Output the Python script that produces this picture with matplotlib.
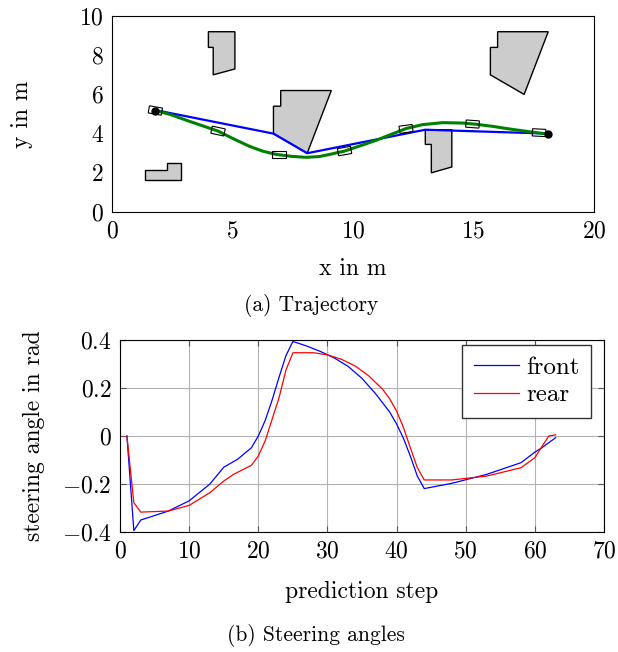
import numpy as np
import matplotlib
matplotlib.use("Agg")
import matplotlib.pyplot as plt
from matplotlib.patches import Polygon
from matplotlib.ticker import FuncFormatter

plt.rcParams['font.family'] = 'serif'
plt.rcParams['font.serif'] = ['cmr10']
plt.rcParams['mathtext.fontset'] = 'cm'
plt.rcParams['axes.formatter.use_mathtext'] = True
plt.rcParams['font.size'] = 17

# --- trajectory data ---
obstacles = [
    [(4.0, 9.2), (5.1, 9.2), (5.1, 7.3), (4.2, 7.0), (4.2, 8.4), (4.0, 8.4)],
    [(7.0, 6.2), (9.1, 6.2), (8.1, 3.0), (6.7, 4.0), (6.7, 5.4), (7.0, 5.4)],
    [(1.35, 2.15), (2.3, 2.15), (2.3, 2.5), (2.85, 2.5), (2.85, 1.65), (1.35, 1.65)],
    [(13.0, 4.2), (14.1, 4.2), (14.1, 2.3), (13.25, 2.0), (13.25, 3.45), (13.0, 3.45)],
    [(16.0, 9.2), (18.1, 9.2), (17.1, 6.0), (15.7, 7.0), (15.7, 8.4), (16.0, 8.4)],
]

path_x = [1.8, 6.7, 8.1, 13.0, 18.1]
path_y = [5.2, 4.0, 3.0, 4.2, 4.0]

traj_x = [1.8, 2.44, 3.09, 4.40, 5.05, 5.71, 6.27, 6.82, 7.45, 8.06, 8.6, 9.03, 9.65, 10.3, 10.96, 11.58,
          12.2, 12.89, 13.72, 14.55, 15.1, 15.8, 16.48, 17.3, 18.07]
traj_y = [5.18, 4.97, 4.68, 4.13, 3.73, 3.35, 3.10, 2.94, 2.84, 2.79, 2.83, 2.94, 3.11, 3.38, 3.66, 3.96,
          4.26, 4.46, 4.56, 4.54, 4.48, 4.37, 4.24, 4.10, 3.98]

veh_x = [1.8, 4.4, 6.93, 9.65, 12.2, 14.96, 17.72]
veh_y = [5.18, 4.13, 2.94, 3.11, 4.24, 4.49, 4.05]
veh_heading = [-10, -12, 0, 10, 8, -4, -3]  # degrees on screen

start = (1.8, 5.18)
goal = (18.1, 3.98)

# --- steering data ---
front_step = [1, 2, 3, 7, 10, 13, 15, 17, 19, 20, 21, 22, 23, 24, 25, 27, 29, 31, 33, 35, 37, 39, 40, 41,
              42, 43, 44, 48, 53, 58, 60, 61, 63]
front_val = [0, -0.394, -0.35, -0.3125, -0.27, -0.20, -0.13, -0.097, -0.049, 0, 0.065, 0.15, 0.245, 0.335,
             0.394, 0.375, 0.352, 0.325, 0.29, 0.24, 0.175, 0.10, 0.05, -0.01, -0.085, -0.167, -0.219,
             -0.197, -0.16, -0.111, -0.067, -0.049, -0.007]

rear_step = [1, 2, 3, 7, 10, 13, 15, 16.4, 19, 20, 21, 22, 23, 24, 25, 28, 30, 32, 34, 36, 38, 39, 40, 41,
             42, 43, 44, 48, 53, 58, 60, 62, 63]
rear_val = [0, -0.278, -0.317, -0.3125, -0.289, -0.236, -0.1875, -0.16, -0.122, -0.083, -0.02, 0.07,
            0.16, 0.275, 0.347, 0.347, 0.338, 0.32, 0.292, 0.25, 0.194, 0.155, 0.104, 0.035, -0.05,
            -0.132, -0.183, -0.183, -0.167, -0.132, -0.09, 0, 0.005]

fig = plt.figure(figsize=(6.18, 6.52), dpi=100)

# (a) trajectory
ax1 = fig.add_axes([0.1812, 0.6748, 0.780, 0.3006])
for obs in obstacles:
    ax1.add_patch(Polygon(obs, closed=True, facecolor='#cccccc', edgecolor='black', linewidth=1.0, zorder=1))
ax1.plot(path_x, path_y, color='blue', linewidth=1.6, zorder=2)
ax1.plot(traj_x, traj_y, color='green', linewidth=2.2, zorder=3)

# vehicle rectangles, sized in screen-like units
ratio = (482 / 20) / (196 / 10)
L, W = 0.55, 0.30
for cx, cy, h in zip(veh_x, veh_y, veh_heading):
    t = np.radians(h)
    c, s = np.cos(t), np.sin(t)
    corners = []
    for a, b in [(L / 2, W / 2), (-L / 2, W / 2), (-L / 2, -W / 2), (L / 2, -W / 2)]:
        corners.append((cx + a * c - b * s, cy + (a * s + b * c) * ratio))
    ax1.add_patch(Polygon(corners, closed=True, fill=False, edgecolor='black', linewidth=0.8, zorder=4))

ax1.plot([start[0], goal[0]], [start[1], goal[1]], 'o', color='black', markersize=5, zorder=5)
ax1.set_xlim(0, 20)
ax1.set_ylim(0, 10)
ax1.set_xticks([0, 5, 10, 15, 20])
ax1.set_yticks([0, 2, 4, 6, 8, 10])
ax1.tick_params(length=0, pad=6)
ax1.set_xlabel('x in m', labelpad=11)
ax1.set_ylabel('y in m', labelpad=33)

fig.text(0.503, 0.532, '(a) Trajectory', ha='center', va='center', fontsize=15.5)

# (b) steering angles
ax2 = fig.add_axes([0.1942, 0.184, 0.7832, 0.2945])
ax2.plot(front_step, front_val, color='blue', linewidth=0.9, label='front')
ax2.plot(rear_step, rear_val, color='red', linewidth=0.9, label='rear')
ax2.set_xlim(0, 70)
ax2.set_ylim(-0.4, 0.4)
ax2.set_xticks(range(0, 71, 10))
ax2.set_yticks([-0.4, -0.2, 0, 0.2, 0.4])
ax2.yaxis.set_major_formatter(FuncFormatter(lambda v, p: '$%g$' % round(v, 2)))
ax2.xaxis.set_major_formatter(FuncFormatter(lambda v, p: '$%g$' % v))
ax2.grid(True, color='#b3b3b3', linewidth=0.8)
ax2.tick_params(direction='in', length=4, top=True, right=True, pad=6, color='#555555')
ax2.set_xlabel('prediction step', labelpad=13)
ax2.set_ylabel('steering angle in rad', labelpad=12)
ax2.legend(loc='upper right', bbox_to_anchor=(0.983, 1.0), fancybox=False, edgecolor='#333333',
           framealpha=1, fontsize=18, handlelength=1.8, handletextpad=0.3, borderpad=0.45,
           labelspacing=0.2, borderaxespad=0.2)

fig.text(0.512, 0.026, '(b) Steering angles', ha='center', va='center', fontsize=15.5)

fig.savefig('out.png', dpi=100)
